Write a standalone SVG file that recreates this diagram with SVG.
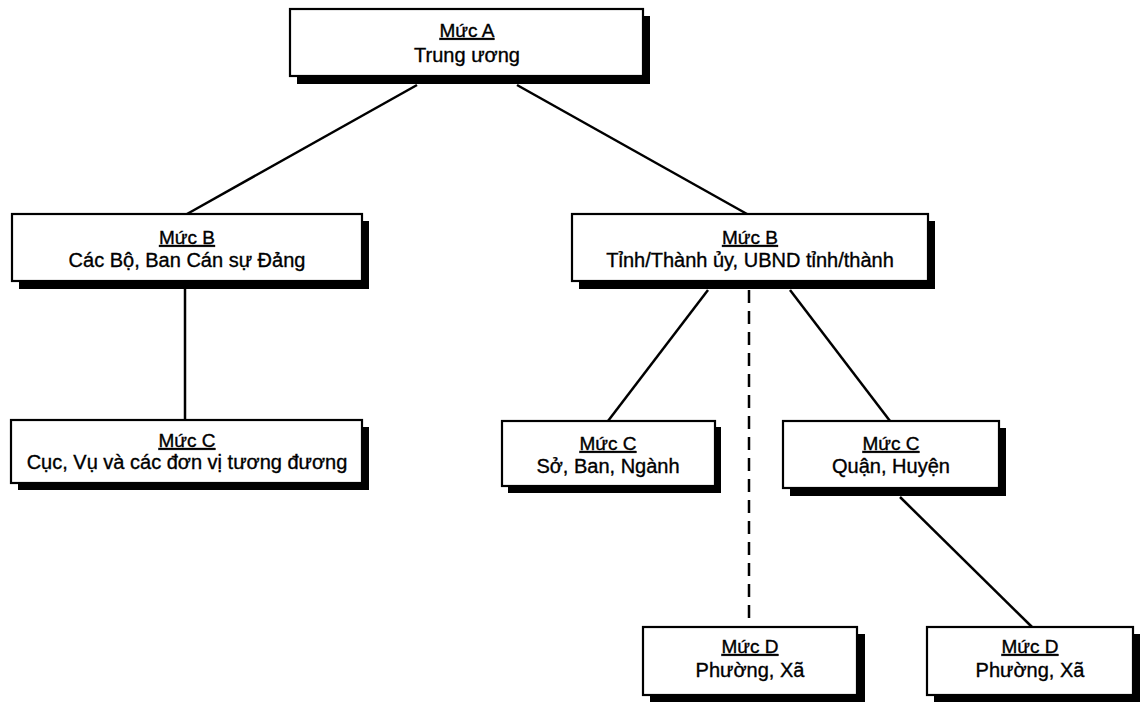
<svg xmlns="http://www.w3.org/2000/svg" width="1140" height="702" viewBox="0 0 1140 702">
  <style>
    .shadow { fill: #000; }
    .box { fill: #fff; stroke: #000; stroke-width: 2.2; }
    .lvl { font-family: "Liberation Sans", Arial, sans-serif; font-size: 19px; fill: #000; stroke: #000; stroke-width: 0.35; text-anchor: middle; text-decoration: underline; }
    .desc { font-family: "Liberation Sans", Arial, sans-serif; font-size: 20px; fill: #000; stroke: #000; stroke-width: 0.35; text-anchor: middle; }
    .link { stroke: #000; stroke-width: 2.5; fill: none; }
    .dash { stroke-dasharray: 13 8; }
  </style>

  <rect width="1140" height="702" fill="#fff"/>

  <!-- connectors -->
  <g id="connectors">
    <line class="link" x1="417" y1="85" x2="187" y2="214"/>
    <line class="link" x1="517" y1="85" x2="747" y2="214"/>
    <line class="link" x1="185" y1="289" x2="185" y2="420"/>
    <line class="link" x1="708" y1="290" x2="608" y2="421"/>
    <line class="link" x1="790" y1="290" x2="890" y2="421"/>
    <line class="link dash" x1="749" y1="290" x2="749" y2="627"/>
    <line class="link" x1="900" y1="497" x2="1032" y2="627"/>
  </g>

  <!-- level A -->
  <g id="node-a">
    <rect class="shadow" x="297" y="16" width="353" height="68"/>
    <rect class="box" x="290" y="9" width="353" height="67"/>
    <text class="lvl" x="467" y="37">Mức A</text>
    <text class="desc" x="467" y="62">Trung ương</text>
  </g>

  <!-- level B, ministries -->
  <g id="node-b1">
    <rect class="shadow" x="19" y="221" width="350" height="68"/>
    <rect class="box" x="12" y="214" width="350" height="67"/>
    <text class="lvl" x="187" y="244">Mức B</text>
    <text class="desc" x="187" y="267">Các Bộ, Ban Cán sự Đảng</text>
  </g>

  <!-- level B, provinces -->
  <g id="node-b2">
    <rect class="shadow" x="579" y="221" width="356" height="68"/>
    <rect class="box" x="572" y="214" width="356" height="67"/>
    <text class="lvl" x="750" y="244">Mức B</text>
    <text class="desc" x="750" y="267">Tỉnh/Thành ủy, UBND tỉnh/thành</text>
  </g>

  <!-- level C, departments -->
  <g id="node-c1">
    <rect class="shadow" x="18" y="427" width="351" height="63"/>
    <rect class="box" x="11" y="420" width="351" height="63"/>
    <text class="lvl" x="187" y="447">Mức C</text>
    <text class="desc" x="187" y="469">Cục, Vụ và các đơn vị tương đương</text>
  </g>

  <g id="node-c2">
    <rect class="shadow" x="508" y="427" width="213" height="66"/>
    <rect class="box" x="502" y="421" width="213" height="65"/>
    <text class="lvl" x="608" y="450">Mức C</text>
    <text class="desc" x="608" y="473">Sở, Ban, Ngành</text>
  </g>

  <g id="node-c3">
    <rect class="shadow" x="790" y="428" width="216" height="68"/>
    <rect class="box" x="783" y="421" width="216" height="67"/>
    <text class="lvl" x="891" y="450">Mức C</text>
    <text class="desc" x="891" y="473">Quận, Huyện</text>
  </g>

  <!-- level D -->
  <g id="node-d1">
    <rect class="shadow" x="650" y="634" width="215" height="70"/>
    <rect class="box" x="643" y="627" width="214" height="68"/>
    <text class="lvl" x="750" y="653">Mức D</text>
    <text class="desc" x="750" y="677">Phường, Xã</text>
  </g>

  <g id="node-d2">
    <rect class="shadow" x="934" y="634" width="210" height="70"/>
    <rect class="box" x="927" y="627" width="206" height="68"/>
    <text class="lvl" x="1030" y="653">Mức D</text>
    <text class="desc" x="1030" y="677">Phường, Xã</text>
  </g>
</svg>
